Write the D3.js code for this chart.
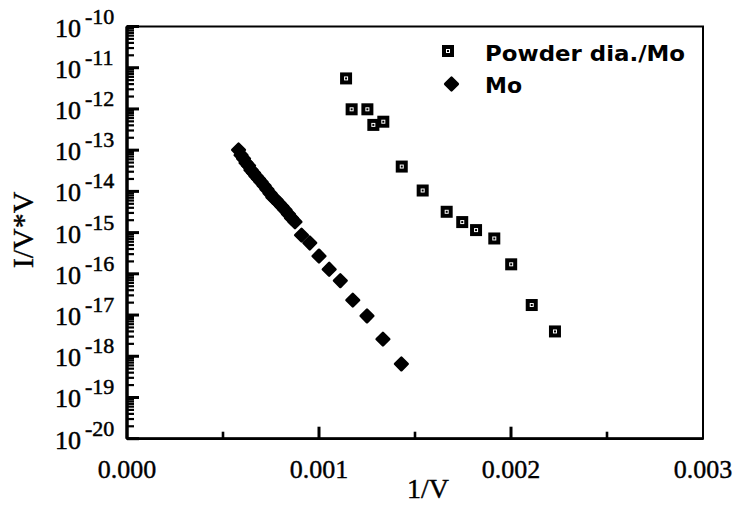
<!DOCTYPE html>
<html>
<head>
<meta charset="utf-8">
<script src="https://cdn.jsdelivr.net/npm/d3@7"></script>
<style>
  body { margin: 0; background: #fff; }
  svg { display: block; }
</style>
</head>
<body>
<svg id="chart"></svg>
<script>
// Powder dia./Mo series (1/V, current)
const powderX = [0.001141, 0.001170, 0.001252, 0.001283, 0.001335, 0.001431, 0.001540,
  0.001665, 0.001746, 0.001818, 0.001913, 0.002001, 0.002108, 0.002229];
const powderY = [5.5e-12, 9.8e-13, 9.8e-13, 4.1e-13, 4.9e-13, 4.0e-14, 1.05e-14,
  3.2e-15, 1.8e-15, 1.15e-15, 7.2e-16, 1.7e-16, 1.75e-17, 4.0e-18];

// Mo series
const moX = [0.000581, 0.000594, 0.000607, 0.000620, 0.000633, 0.000646, 0.000659,
  0.000672, 0.000685, 0.000698, 0.000714, 0.000729, 0.000745, 0.000760, 0.000776,
  0.000792, 0.000807, 0.000823, 0.000841, 0.000857, 0.000875,
  0.000909, 0.000952, 0.001000, 0.001053, 0.001111, 0.001176, 0.001250, 0.001333, 0.001429];
const moY = [1.01e-13, 7.6e-14, 6.2e-14, 4.9e-14, 4.2e-14, 3.3e-14, 2.8e-14,
  2.35e-14, 2.0e-14, 1.7e-14, 1.38e-14, 1.12e-14, 8.9e-15, 7.2e-15, 6.2e-15,
  5.1e-15, 4.3e-15, 3.55e-15, 2.8e-15, 2.25e-15, 1.83e-15,
  8.7e-16, 5.6e-16, 2.7e-16, 1.29e-16, 6.8e-17, 2.3e-17, 9.5e-18, 2.6e-18, 6.5e-19];

const xTickLabels = [0, 0.001, 0.002, 0.003];
const xMinorTicks = [0.0005, 0.0015, 0.0025];
const yExponents = [-10, -11, -12, -13, -14, -15, -16, -17, -18, -19, -20];
const yMinorMult = [2, 3, 4, 5, 6, 7, 8, 9];

const legendLabels = ["Powder dia./Mo", "Mo"];

const W = 739, H = 512;
const m = { left: 127, top: 26.5, right: 36, bottom: 73.3 };
const iw = W - m.left - m.right;
const ih = H - m.top - m.bottom;

const svg = d3.select("#chart").attr("width", W).attr("height", H);
const g = svg.append("g").attr("transform", `translate(${m.left},${m.top})`);

const x = d3.scaleLinear().domain([0, 0.003]).range([0, iw]);
const y = d3.scaleLog().domain([1e-20, 1e-10]).range([ih, 0]);

const serif = "'Liberation Serif', 'Times New Roman', serif";

// frame
g.append("rect")
  .attr("width", iw).attr("height", ih)
  .attr("fill", "none").attr("stroke", "#000").attr("stroke-width", 2);
g.append("line")
  .attr("x1", 0).attr("x2", 0).attr("y1", 0).attr("y2", ih)
  .attr("stroke", "#000").attr("stroke-width", 3.5);
g.append("line")
  .attr("x1", 0).attr("x2", iw).attr("y1", ih).attr("y2", ih)
  .attr("stroke", "#000").attr("stroke-width", 2.8);

// y ticks (inward)
let minorVals = [];
yExponents.slice(1).forEach(e => {
  yMinorMult.forEach(k => minorVals.push(k * Math.pow(10, e)));
});
const majorVals = yExponents.map(e => Math.pow(10, e));

g.append("g").selectAll("line").data(minorVals).enter().append("line")
  .attr("x1", 0).attr("x2", 7)
  .attr("y1", d => y(d)).attr("y2", d => y(d))
  .attr("stroke", "#000").attr("stroke-width", 2.2);
g.append("g").selectAll("line").data(majorVals).enter().append("line")
  .attr("x1", 0).attr("x2", 12)
  .attr("y1", d => y(d)).attr("y2", d => y(d))
  .attr("stroke", "#000").attr("stroke-width", 3);

// y labels: 10 with superscript exponent
const yl = g.append("g").attr("fill", "#000").attr("stroke", "#000").attr("stroke-width", 0.5);
yExponents.forEach(e => {
  const ty = y(Math.pow(10, e));
  yl.append("text")
    .attr("x", -46).attr("y", ty + 10)
    .attr("text-anchor", "end")
    .style("font-family", serif).style("font-size", "26px")
    .text("10");
  yl.append("text")
    .attr("x", -42).attr("y", ty - 3)
    .attr("text-anchor", "start")
    .style("font-family", serif).style("font-size", "22px")
    .text("-" + Math.abs(e));
});

// x ticks (inward)
g.append("g").selectAll("line").data(xTickLabels.slice(1, -1)).enter().append("line")
  .attr("x1", d => x(d)).attr("x2", d => x(d))
  .attr("y1", ih).attr("y2", ih - 12)
  .attr("stroke", "#000").attr("stroke-width", 3);
g.append("g").selectAll("line").data(xMinorTicks).enter().append("line")
  .attr("x1", d => x(d)).attr("x2", d => x(d))
  .attr("y1", ih).attr("y2", ih - 7)
  .attr("stroke", "#000").attr("stroke-width", 2.6);

const fmt = d3.format(".3f");
g.append("g").attr("stroke", "#000").attr("stroke-width", 0.4)
  .selectAll("text").data(xTickLabels).enter().append("text")
  .attr("x", d => x(d)).attr("y", ih + 39)
  .attr("text-anchor", "middle")
  .style("font-family", serif).style("font-size", "26px")
  .text(d => fmt(d));

// axis titles
svg.append("text")
  .attr("x", 428).attr("y", 498)
  .attr("text-anchor", "middle")
  .attr("stroke", "#000").attr("stroke-width", 0.4)
  .style("font-family", serif).style("font-size", "28px")
  .text("1/V");
svg.append("text")
  .attr("transform", "translate(33,230) rotate(-90)")
  .attr("text-anchor", "middle")
  .attr("stroke", "#000").attr("stroke-width", 0.4)
  .style("font-family", serif).style("font-size", "30px")
  .text("I/V*V");

// markers
function squareMark(sel, cx, cy) {
  sel.append("rect")
    .attr("x", cx - 4).attr("y", cy - 4).attr("width", 8).attr("height", 8)
    .attr("fill", "#fff").attr("stroke", "#000").attr("stroke-width", 4);
  sel.append("rect")
    .attr("x", cx - 1).attr("y", cy - 1).attr("width", 2).attr("height", 2)
    .attr("fill", "#000");
}
const diamond = d3.symbol().type(d3.symbolSquare).size(80);
function diamondMark(sel, cx, cy) {
  sel.append("path")
    .attr("d", diamond())
    .attr("transform", `translate(${cx},${cy}) rotate(45)`)
    .attr("fill", "#000").attr("stroke", "#000")
    .attr("stroke-width", 2.5).attr("stroke-linejoin", "round");
}

const moData = moX.map((v, i) => [v, moY[i]]);
const powderData = powderX.map((v, i) => [v, powderY[i]]);

const moG = g.append("g");
moData.forEach(d => diamondMark(moG, x(d[0]), y(d[1])));
const pG = g.append("g");
powderData.forEach(d => squareMark(pG, x(d[0]), y(d[1])));

// legend
const sans = "'DejaVu Sans', Verdana, sans-serif";
squareMark(svg, 448, 51);
diamondMark(svg, 451.5, 84);
svg.append("text")
  .attr("x", 485).attr("y", 61)
  .style("font-family", sans).style("font-weight", "bold").style("font-size", "22px")
  .attr("textLength", 200).attr("lengthAdjust", "spacingAndGlyphs")
  .text(legendLabels[0]);
svg.append("text")
  .attr("x", 485).attr("y", 93)
  .style("font-family", sans).style("font-weight", "bold").style("font-size", "22px")
  .text(legendLabels[1]);
</script>
</body>
</html>
